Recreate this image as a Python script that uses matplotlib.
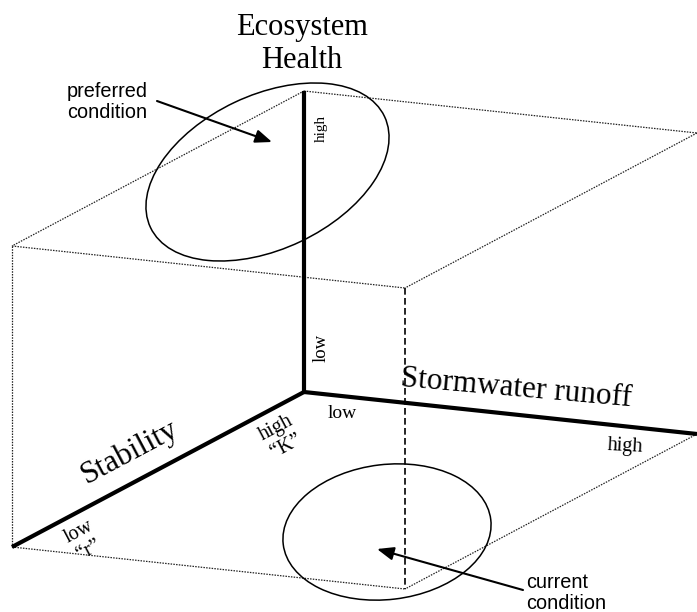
import numpy as np
import matplotlib
matplotlib.use("Agg")
from matplotlib import pyplot as plt
from matplotlib.patches import Ellipse

SERIF = "Liberation Serif"
SANS = "Liberation Sans"

# axis end points of the sketch (pixels, y going down)
origin = np.array([304, 392])
healthEnd = np.array([304, 91])
stabilityEnd = np.array([12, 547])
runoffEnd = np.array([697, 434])

# the two condition ellipses: centre, width, height, tilt
preferredEllipse = [(267.5, 172), 259, 154, -25.4]
currentEllipse = [(387, 532), 209, 135, -6.8]

# arrows: (text end, tip end)
preferredArrow = [(157, 101), (272, 142)]
currentArrow = [(523, 590), (377, 549)]


def drawLine(ax, p, q, **kw):
    ax.plot([p[0], q[0]], [p[1], q[1]], **kw)


fig = plt.figure(figsize=(6.97, 6.12), dpi=100)
ax = fig.add_axes([0, 0, 1, 1])
ax.set_xlim(0, 697)
ax.set_ylim(612, 0)
ax.axis("off")

# box corners from the three axis vectors
s = stabilityEnd - origin
r = runoffEnd - origin
h = healthEnd - origin
topLeft = origin + h + s
topRight = origin + h + r
topFront = origin + h + s + r
bottomFront = origin + s + r

dotted = dict(color="#222222", lw=0.9, linestyle=(0, (1.2, 1)), zorder=1)
drawLine(ax, healthEnd, topLeft, **dotted)
drawLine(ax, healthEnd, topRight, **dotted)
drawLine(ax, topLeft, topFront, **dotted)
drawLine(ax, topRight, topFront, **dotted)
drawLine(ax, topLeft, stabilityEnd, **dotted)
drawLine(ax, stabilityEnd, bottomFront, **dotted)
drawLine(ax, runoffEnd, bottomFront, **dotted)
drawLine(ax, topFront, bottomFront, color="black", lw=1.2,
         linestyle=(0, (4, 2)), zorder=1)

# main axes
thick = dict(color="black", lw=3, solid_capstyle="butt", zorder=3)
drawLine(ax, origin, healthEnd, **thick)
drawLine(ax, origin, stabilityEnd, **thick)
drawLine(ax, origin, runoffEnd, **thick)

for e in [preferredEllipse, currentEllipse]:
    ax.add_patch(Ellipse(e[0], e[1], e[2], angle=e[3], fill=False,
                         edgecolor="black", lw=1.1, zorder=2))

for a in [preferredArrow, currentArrow]:
    ax.annotate("", xy=a[1], xytext=a[0],
                arrowprops=dict(arrowstyle="-|>,head_length=0.5,head_width=0.2",
                                mutation_scale=20, lw=1.5, color="black",
                                shrinkA=0, shrinkB=0), zorder=4)

# labels
ax.text(302, 44, "Ecosystem\nHealth", family=SERIF, fontsize=22,
        ha="center", va="center", linespacing=1.2)
ax.text(321, 128, "high", family=SERIF, fontsize=11, rotation=90,
        ha="center", va="center")
ax.text(321, 348, "low", family=SERIF, fontsize=13.5, rotation=90,
        ha="center", va="center")
ax.text(516, 389, "Stormwater runoff", family=SERIF, fontsize=22.5,
        rotation=-5, ha="center", va="center")
ax.text(342, 414, "low", family=SERIF, fontsize=14, ha="center", va="center")
ax.text(625, 446, "high", family=SERIF, fontsize=14.5, rotation=-3,
        ha="center", va="center")
ax.text(130, 452, "Stability", family=SERIF, fontsize=22.5, rotation=28,
        ha="center", va="center")
ax.text(281, 437, "high\n\u201cK\u201d", family=SERIF, fontsize=14.5,
        rotation=28, ha="center", va="center", linespacing=1.1)
ax.text(84, 541, "low\n\u201cr\u201d", family=SERIF, fontsize=14.5,
        rotation=28, ha="center", va="center", linespacing=1.1)
ax.text(67, 102, "preferred\ncondition", family=SANS, fontsize=14.3,
        ha="left", va="center", linespacing=1.15)
ax.text(526, 593, "current\ncondition", family=SANS, fontsize=14.3,
        ha="left", va="center", linespacing=1.15)

fig.savefig("out.png", dpi=100)
